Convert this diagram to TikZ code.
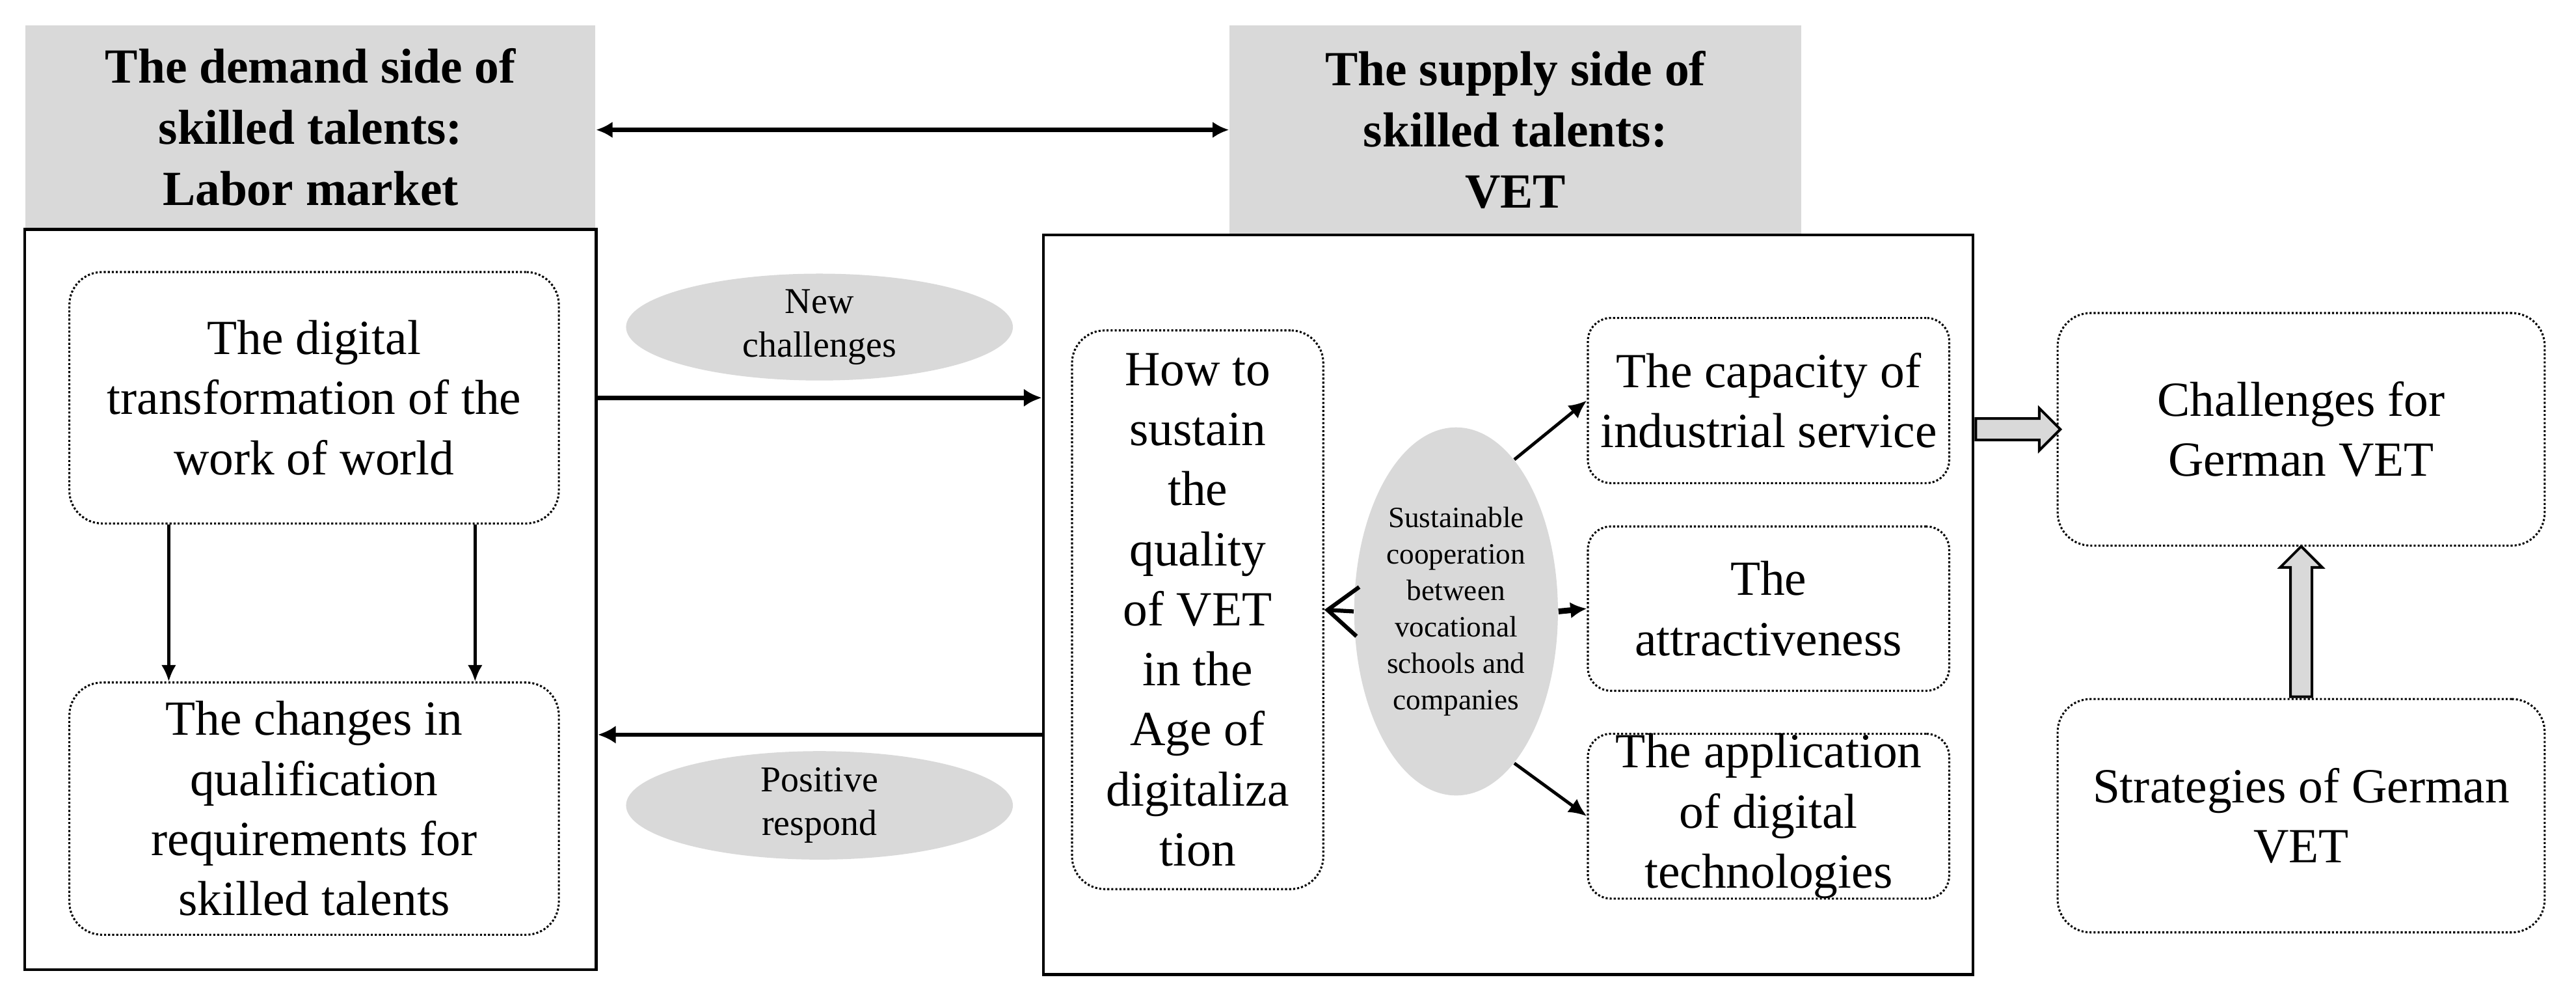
\documentclass[tikz,border=0pt]{standalone}
\usepackage{fontspec}
\setmainfont{Liberation Serif}
\usetikzlibrary{arrows.meta,shapes.geometric,shapes.arrows}
\definecolor{shade}{HTML}{D9D9D9}

\begin{document}
\begin{tikzpicture}[x=0.02cm,y=-0.02cm,
    head/.style={fill=shade,align=center,inner sep=0pt,font=\fontsize{17}{21.2}\selectfont\bfseries},
    panel/.style={draw,line width=1pt,inner sep=0pt},
    item/.style={draw,line width=0.7pt,dash pattern=on 0.7pt off 0.7pt,rounded corners=0.4cm,align=center,inner sep=1pt,font=\fontsize{17}{20.8}\selectfont},
    tag/.style={ellipse,fill=shade,align=center,inner sep=0pt,font=\fontsize{12.6}{15.2}\selectfont},
    flow/.style={line width=1.5pt,-{Latex[length=0.22cm,width=0.22cm]}},
    thin/.style={line width=1pt,-{Latex[length=0.2cm,width=0.18cm]}},
    link/.style={line width=1.1pt,-{Latex[length=0.22cm,width=0.2cm]}},
    bigarrow/.style={single arrow,draw,fill=shade,line width=0.9pt,inner sep=0.115cm,single arrow head extend=0.125cm,minimum width=0pt}]
\useasboundingbox (0,0) rectangle (1568,606.6);

% headers
\node[head,minimum width=6.94cm,minimum height=2.48cm] (lhead) at (189,77.4) {The demand side of\\skilled talents:\\Labor market};
\node[head,minimum width=6.96cm,minimum height=2.54cm] (rhead) at (922.4,79) {The supply side of\\skilled talents:\\VET};

% panels
\node[panel,minimum width=6.96cm,minimum height=9.01cm] (lpanel) at (189,364.7) {};
\node[panel,minimum width=11.32cm,minimum height=9cm] (mpanel) at (918,368) {};

% labor market
\node[item,minimum width=5.96cm,minimum height=3.06cm] (digital) at (191.2,242) {The digital\\transformation of the\\work of world};
\node[item,minimum width=5.96cm,minimum height=3.07cm] (changes) at (191.2,492) {The changes in\\qualification\\requirements for\\skilled talents};

% between the sides
\node[tag,minimum width=4.71cm,minimum height=1.29cm] (newch) at (498.8,199) {New\\challenges};
\node[tag,minimum width=4.71cm,minimum height=1.32cm] (posresp) at (498.8,490) {Positive\\respond};

% VET
\node[item,minimum width=3.06cm,minimum height=6.8cm] (howto) at (729,371) {How to\\sustain\\the\\quality\\of VET\\in the\\Age of\\digitaliza\\tion};
\node[tag,minimum width=2.48cm,minimum height=4.48cm,font=\fontsize{10.2}{12.6}\selectfont] (coop) at (886.3,372) {Sustainable\\cooperation\\between\\vocational\\schools and\\companies};
\node[item,rounded corners=0.28cm,minimum width=4.4cm,minimum height=2.01cm] (capacity) at (1076.5,243.7) {The capacity of\\industrial service};
\node[item,rounded corners=0.28cm,minimum width=4.4cm,minimum height=2cm] (attract) at (1076.5,370.3) {The\\attractiveness};
\node[item,rounded corners=0.28cm,minimum width=4.4cm,minimum height=2cm,inner sep=0pt] (app) at (1076.5,496.6) {The application\\of digital\\technologies};

% German VET
\node[item,minimum width=5.93cm,minimum height=2.83cm] (chal) at (1400.7,261.2) {Challenges for\\German VET};
\node[item,minimum width=5.93cm,minimum height=2.84cm] (strat) at (1400.7,496.3) {Strategies of German\\VET};

% connectors
\draw[line width=1.4pt,{Latex[length=0.2cm,width=0.2cm]}-{Latex[length=0.2cm,width=0.2cm]}] (rhead.west -| lhead.east) -- (rhead.west);
\draw[flow] (lpanel.east |- digital) -- (mpanel.west |- digital);
\draw[flow] (mpanel.west |- 0,447) -- (lpanel.east |- 0,447);
\draw[thin] ([xshift=-1.77cm]digital.south) -- ([xshift=-1.77cm]changes.north);
\draw[thin] ([xshift=1.96cm]digital.south) -- ([xshift=1.96cm]changes.north);
\draw[line width=1.4pt,-{Straight Barb[length=0.37cm,width=0.6cm]}] (coop.west) -- (howto.east);
\draw[link] (coop.69) -- (capacity.west);
\draw[line width=2pt,-{Latex[length=0.2cm,width=0.2cm]}] (coop.east) -- (attract.west);
\draw[link] (coop.-69) -- (app.west);
\node[bigarrow,minimum height=1.03cm,anchor=tail] (tochal) at (mpanel.east |- chal.west) {};
\node[bigarrow,shape border rotate=90,minimum height=1.83cm,anchor=tail] (fromstrat) at (strat.north) {};

\end{tikzpicture}
\end{document}
